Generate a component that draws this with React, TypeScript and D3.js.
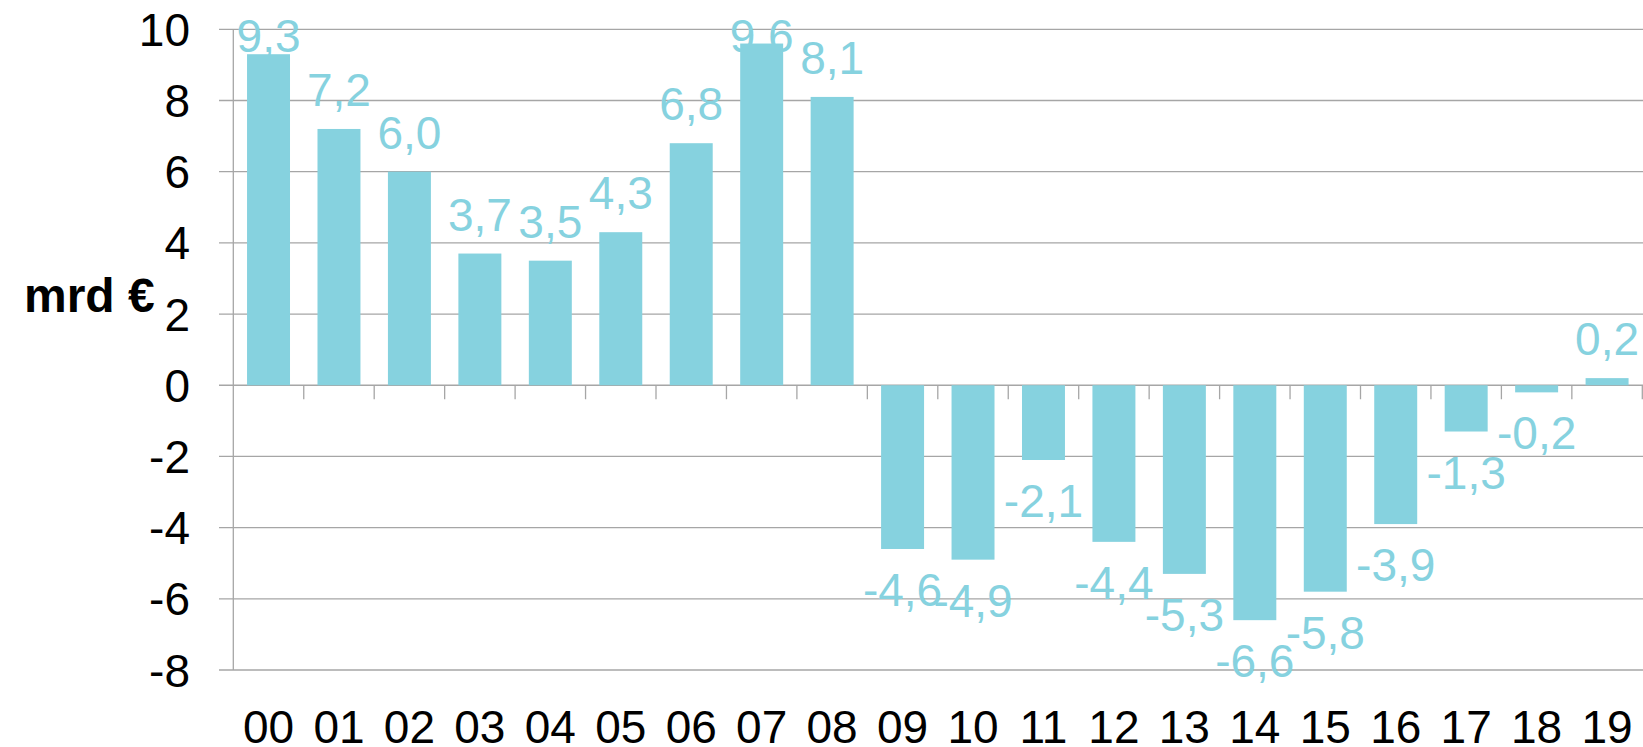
import React from "react";
import * as d3 from "d3";

const categories = ["00","01","02","03","04","05","06","07","08","09","10","11","12","13","14","15","16","17","18","19"];
const values = [9.3, 7.2, 6.0, 3.7, 3.5, 4.3, 6.8, 9.6, 8.1, -4.6, -4.9, -2.1, -4.4, -5.3, -6.6, -5.8, -3.9, -1.3, -0.2, 0.2];
const yTicks = [10, 8, 6, 4, 2, 0, -2, -4, -6, -8];
const yAxisTitle = "mrd €";

const W = 1643;
const H = 747;
const BAR = "#86D2DF";
const GRID = "#a6a6a6";
const FONT = "Liberation Sans, Arial, sans-serif";

export default function App() {
  const y = d3.scaleLinear().domain([-8, 10]).range([670, 29.3]);
  const x = d3.scaleBand<string>().domain(categories).range([233.3, 1642.3]).paddingInner(0.39).paddingOuter(0.195);
  const step = x.step();
  const x0 = 233.3;
  const fmt = (v: number) => v.toFixed(1).replace(".", ",");
  const y0 = y(0);
  const clampTop = y(10) + 23;

  return (
    <svg width={W} height={H} style={{ position: "absolute", left: 0, top: 0, background: "#fff" }}>
      {yTicks.map((t) => (
        <g key={t}>
          <line x1={219} x2={1643} y1={y(t)} y2={y(t)} stroke={GRID} strokeWidth={1.3} />
          <text x={190} y={y(t)} dy="0.36em" textAnchor="end" fontFamily={FONT} fontSize={46} fill="#000">{t}</text>
        </g>
      ))}
      <line x1={x0} x2={x0} y1={y(10)} y2={y(-8)} stroke={GRID} strokeWidth={1.3} />
      {categories.map((c, i) => (
        <line key={"t" + c} x1={x0 + step * (i + 1)} x2={x0 + step * (i + 1)} y1={y0} y2={y0 + 14} stroke={GRID} strokeWidth={1.3} />
      ))}
      {values.map((v, i) => {
        const c = categories[i];
        const top = y(Math.max(0, v));
        const bot = y(Math.min(0, v));
        return <rect key={"b" + c} x={x(c)} y={top} width={x.bandwidth()} height={bot - top} fill={BAR} />;
      })}
      {values.map((v, i) => {
        const c = categories[i];
        const cx = (x(c) as number) + x.bandwidth() / 2;
        const ly = v >= 0 ? Math.max(y(v) - 23, clampTop) : y(v) + 57;
        return (
          <text key={"l" + c} x={cx} y={ly} textAnchor="middle" fontFamily={FONT} fontSize={46} fill={BAR}>{fmt(v)}</text>
        );
      })}
      {categories.map((c) => (
        <text key={"x" + c} x={(x(c) as number) + x.bandwidth() / 2} y={743} textAnchor="middle" fontFamily={FONT} fontSize={46} fill="#000">{c}</text>
      ))}
      <text x={24} y={311.7} fontFamily={FONT} fontSize={48} fontWeight="bold" fill="#000">{yAxisTitle}</text>
    </svg>
  );
}
